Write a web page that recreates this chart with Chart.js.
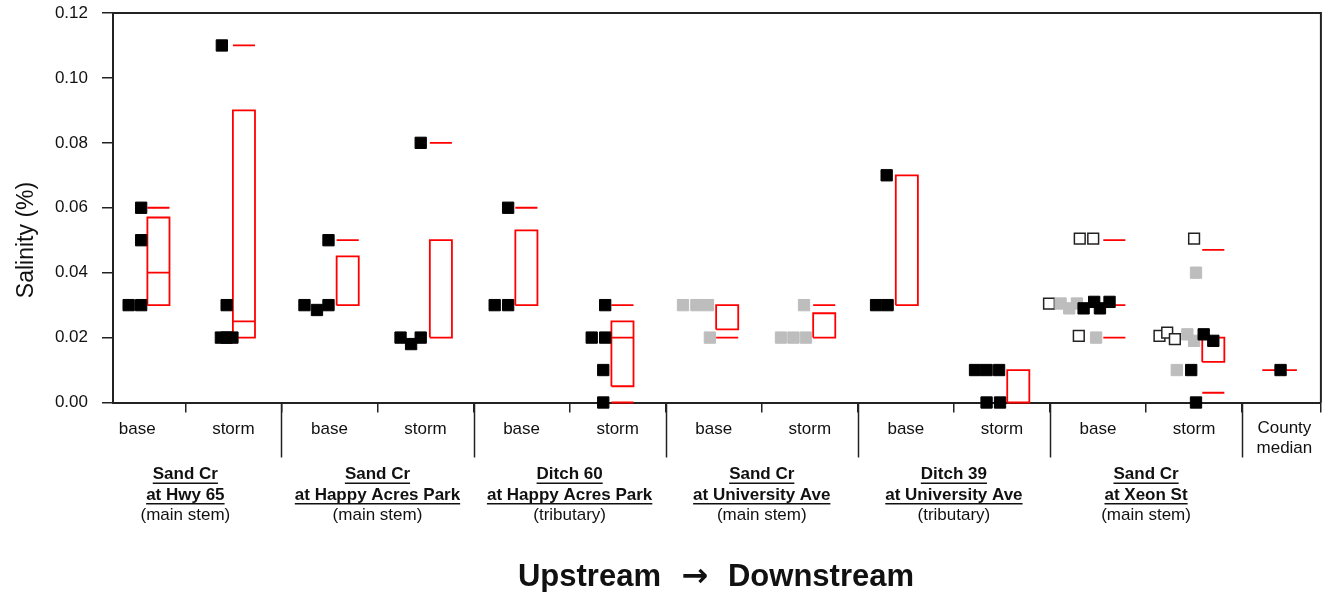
<!DOCTYPE html>
<html>
<head>
<meta charset="utf-8">
<script src="https://cdn.jsdelivr.net/npm/chart.js@4"></script>
<style>
  body { margin: 0; background: #fff; }
  #wrap { width: 1330px; height: 592px; }
</style>
</head>
<body>
<div id="wrap"><canvas id="sal"></canvas></div>
<script>
// sites, upstream to downstream
var sites = [
  ['Sand Cr', 'at Hwy 65', '(main stem)'],
  ['Sand Cr', 'at Happy Acres Park', '(main stem)'],
  ['Ditch 60', 'at Happy Acres Park', '(tributary)'],
  ['Sand Cr', 'at University Ave', '(main stem)'],
  ['Ditch 39', 'at University Ave', '(tributary)'],
  ['Sand Cr', 'at Xeon St', '(main stem)']
];
var flows = ['base', 'storm', 'base', 'storm', 'base', 'storm', 'base', 'storm', 'base', 'storm', 'base', 'storm'];
var yTicks = [0, 0.02, 0.04, 0.06, 0.08, 0.10, 0.12];

// samples (x = position inside the base/storm column)
var blackX = [0.41, 0.54, 0.54, 0.54, 1.38, 1.43, 1.37, 1.43, 1.49, 2.24, 2.37, 2.49, 2.49, 3.45, 3.24, 3.35, 3.45,
  4.22, 4.36, 4.36, 5.37, 5.23, 5.37, 5.35, 5.35, 8.30, 8.19, 8.31, 9.22, 9.34, 9.47, 9.34, 9.48,
  10.35, 10.46, 10.52, 10.62, 11.60, 11.70, 11.47, 11.52, 12.40];
var blackY = [0.030, 0.030, 0.050, 0.060, 0.110, 0.030, 0.020, 0.020, 0.020, 0.030, 0.0285, 0.030, 0.050, 0.080, 0.020, 0.018, 0.020,
  0.030, 0.030, 0.060, 0.030, 0.020, 0.020, 0.010, 0.000, 0.070, 0.030, 0.030, 0.010, 0.010, 0.010, 0.000, 0.000,
  0.029, 0.031, 0.029, 0.031, 0.021, 0.019, 0.010, 0.000, 0.010];
var grayX = [6.18, 6.32, 6.44, 6.46, 7.44, 7.20, 7.33, 7.46, 10.11, 10.20, 10.28, 10.48, 11.52, 11.43, 11.50, 11.32];
var grayY = [0.030, 0.030, 0.030, 0.020, 0.030, 0.020, 0.020, 0.020, 0.0305, 0.029, 0.0305, 0.020, 0.040, 0.021, 0.019, 0.010];
var openX = [10.31, 10.45, 9.99, 10.30, 11.50, 11.14, 11.22, 11.30];
var openY = [0.0505, 0.0505, 0.0305, 0.0205, 0.0505, 0.0205, 0.0215, 0.0195];

// summary per column: box = quartiles, dashes = 10th / 90th percentile
var boxX = [0.72, 1.61, 2.69, 3.66, 4.55, 5.55, 6.64, 7.65, 8.51, 9.67, 10.67, 11.70];
var q1 = [0.030, 0.020, 0.030, 0.020, 0.030, 0.005, 0.0225, 0.020, 0.030, 0.000, 0.030, 0.0125];
var q3 = [0.057, 0.090, 0.045, 0.050, 0.053, 0.025, 0.030, 0.0275, 0.070, 0.010, 0.030, 0.020];
var med = [0.040, 0.025, 0.030, 0.020, 0.030, 0.020, 0.030, 0.020, 0.030, 0.010, 0.030, 0.020];
var p90 = [0.060, 0.110, 0.050, 0.080, 0.060, 0.030, 0.030, 0.030, 0.070, 0.010, 0.050, 0.047];
var p10 = [0.030, 0.020, 0.030, 0.020, 0.030, 0.000, 0.020, 0.020, 0.030, 0.000, 0.020, 0.003];
var countyX = 12.39, countyMedian = 0.010;

var HW = 0.115;   // half width of a box
var FONT = "'Liberation Sans', Arial, sans-serif";

function pts(xs, ys) {
  return xs.map(function (x, i) { return { x: x, y: ys[i] }; });
}

// all red outlines in one line dataset, broken by nulls
var red = [];
function seg(a) { a.forEach(function (p) { red.push(p); }); red.push({ x: a[0].x, y: null }); }
for (var i = 0; i < boxX.length; i++) {
  var l = boxX[i] - HW, r = boxX[i] + HW;
  seg([{ x: l, y: q1[i] }, { x: l, y: q3[i] }, { x: r, y: q3[i] }, { x: r, y: q1[i] }, { x: l, y: q1[i] }]);
  seg([{ x: l, y: med[i] }, { x: r, y: med[i] }]);
  seg([{ x: l, y: p90[i] }, { x: r, y: p90[i] }]);
  seg([{ x: l, y: p10[i] }, { x: r, y: p10[i] }]);
}
seg([{ x: countyX - 0.18, y: countyMedian }, { x: countyX + 0.18, y: countyMedian }]);

var xMin = 0.247, xMax = 12.82;
var tickPos = [1, 2, 3, 4, 5, 6, 7, 8, 9, 10, 11, 12, xMax];

var labelsPlugin = {
  id: 'labels',
  afterDraw: function (chart) {
    var ctx = chart.ctx, xs = chart.scales.x, a = chart.chartArea;
    ctx.save();
    // frame on top and right
    ctx.strokeStyle = '#222';
    ctx.lineWidth = 2;
    ctx.beginPath();
    ctx.moveTo(a.left, a.top); ctx.lineTo(a.right, a.top); ctx.lineTo(a.right, a.bottom);
    ctx.stroke();
    // long separators between sites
    ctx.lineWidth = 1.5;
    for (var s = 1; s <= sites.length; s++) {
      var px = Math.round(xs.getPixelForValue(2 * s)) + 0.5;
      ctx.beginPath(); ctx.moveTo(px, a.bottom); ctx.lineTo(px, a.bottom + 55); ctx.stroke();
    }
    ctx.fillStyle = '#111';
    ctx.textAlign = 'center';
    ctx.textBaseline = 'middle';
    ctx.font = '17px ' + FONT;
    flows.forEach(function (f, i) {
      ctx.fillText(f, xs.getPixelForValue(i + 0.5), a.bottom + 27);
    });
    ctx.fillText('County', xs.getPixelForValue(12.44), a.bottom + 26);
    ctx.fillText('median', xs.getPixelForValue(12.44), a.bottom + 46);
    // site names
    sites.forEach(function (lines, s) {
      var cx = xs.getPixelForValue(2 * s + 1);
      for (var k = 0; k < 3; k++) {
        var y = a.bottom + 72 + k * 20.5;
        ctx.font = (k < 2 ? 'bold ' : '') + '17px ' + FONT;
        ctx.fillText(lines[k], cx, y);
        if (k < 2) {
          var w = ctx.measureText(lines[k]).width;
          ctx.fillRect(cx - w / 2, y + 8, w, 1.5);
        }
      }
    });
    // direction caption under the axis
    var mid = (a.left + a.right) / 2, cy = a.bottom + 175;
    ctx.font = 'bold 31px ' + FONT;
    ctx.textAlign = 'right';
    ctx.fillText('Upstream', mid - 56, cy);
    ctx.textAlign = 'left';
    ctx.fillText('Downstream', mid + 11, cy);
    ctx.textAlign = 'center';
    ctx.font = "bold 32px 'DejaVu Sans', sans-serif";
    ctx.fillText('\u2192', mid - 22, cy);
    // y title
    ctx.translate(27, 240);
    ctx.rotate(-Math.PI / 2);
    ctx.font = '23px ' + FONT;
    ctx.fillText('Salinity (%)', 0, 0);
    ctx.restore();
  }
};

new Chart(document.getElementById('sal'), {
  type: 'scatter',
  data: {
    datasets: [
      { data: pts(blackX, blackY), pointStyle: 'rect', pointRadius: 8, pointBorderWidth: 1,
        backgroundColor: '#000', borderColor: '#000', clip: false },
      { data: pts(grayX, grayY), pointStyle: 'rect', pointRadius: 8, pointBorderWidth: 1,
        backgroundColor: '#bdbdbd', borderColor: '#bdbdbd', clip: false },
      { data: pts(openX, openY), pointStyle: 'rect', pointRadius: 7.6, pointBorderWidth: 1.5,
        backgroundColor: '#fff', borderColor: '#222', clip: false },
      { data: red, showLine: true, spanGaps: false, pointRadius: 0, borderColor: '#ff0000',
        borderWidth: 1.8, fill: false, clip: false }
    ]
  },
  options: {
    responsive: true,
    maintainAspectRatio: false,
    animation: false,
    events: [],
    layout: { padding: { top: 13, right: 9, left: 0, bottom: 0 } },
    plugins: { legend: { display: false }, tooltip: { enabled: false } },
    scales: {
      x: {
        type: 'linear', min: xMin, max: xMax,
        afterBuildTicks: function (s) { s.ticks = tickPos.map(function (v) { return { value: v }; }); },
        afterFit: function (s) { s.height = 189.5; },
        ticks: { display: false },
        grid: { drawOnChartArea: false, tickLength: 10, color: '#222', lineWidth: 1.5 },
        border: { display: true, color: '#222', width: 2 }
      },
      y: {
        min: 0, max: 0.12,
        afterBuildTicks: function (s) { s.ticks = yTicks.map(function (v) { return { value: v }; }); },
        afterFit: function (s) { s.width = 113; s.paddingTop = 0; s.paddingBottom = 0; },
        ticks: { padding: 14, color: '#111', font: { family: FONT, size: 17 },
          callback: function (v) { return v.toFixed(2); } },
        grid: { drawOnChartArea: false, tickLength: 11, color: '#222', lineWidth: 1.5 },
        border: { display: true, color: '#222', width: 2 }
      }
    }
  },
  plugins: [labelsPlugin]
});
</script>
</body>
</html>
